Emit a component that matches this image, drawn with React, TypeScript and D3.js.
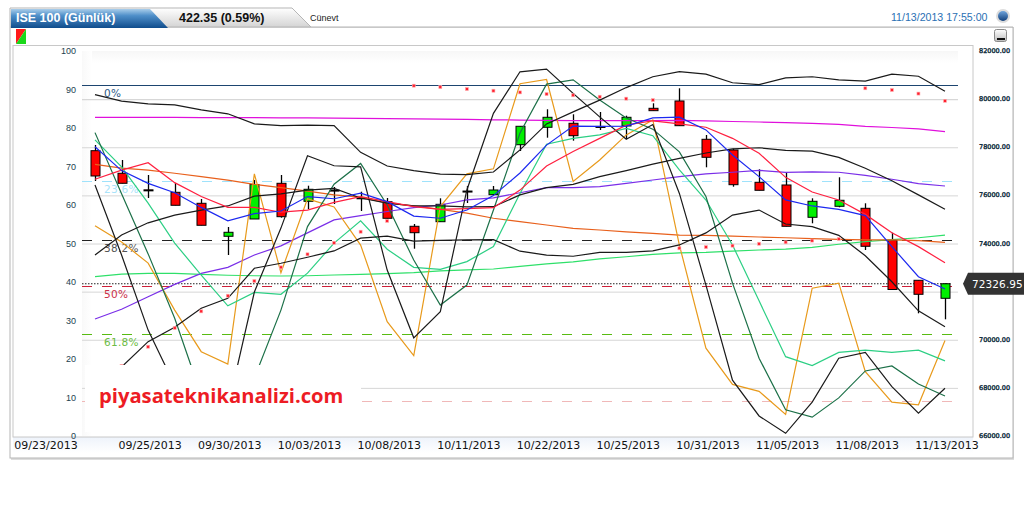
import { useEffect, useRef } from "react";
import * as d3 from "d3";

// daily candles, index price
const dates = ["09/23/2013", "09/25/2013", "09/30/2013", "10/03/2013", "10/08/2013", "10/11/2013", "10/22/2013", "10/25/2013", "10/31/2013", "11/05/2013", "11/08/2013", "11/13/2013"];
const dateIdx = [0, 2, 5, 8, 11, 14, 17, 20, 23, 26, 29, 32];

const open = [77857, 76918, 76230, 76128, 75671, 74300, 75019, 76502, 75754, 76220, 75900, 75737, 74715, 74906, 76180, 76028, 78106, 78830, 78996, 78865, 78884, 79619, 79923, 78331, 77886, 76544, 76432, 75089, 75546, 75463, 74146, 72471, 71723];
const close = [76806, 76502, 76210, 75588, 74757, 74466, 76452, 75114, 76253, 76200, 75880, 75048, 74449, 75629, 76160, 76224, 78871, 79245, 78480, 78845, 79245, 79520, 78896, 77583, 76444, 76211, 74715, 75754, 75796, 73884, 72088, 71889, 72326.95];
const high = [78094, 77471, 76847, 76515, 75850, 74686, 76639, 76847, 76402, 76348, 76153, 75891, 74811, 75879, 76390, 76390, 78871, 79578, 79370, 79465, 79312, 79827, 80450, 78510, 77940, 77084, 76943, 75879, 76752, 75671, 74449, 72471, 72346];
const low = [76598, 76502, 75891, 75588, 74757, 73522, 75019, 75073, 75434, 75642, 75351, 75048, 73784, 74906, 75683, 76028, 77845, 78397, 78273, 78717, 78343, 79520, 78896, 77167, 76361, 76211, 74715, 74840, 75505, 73730, 72088, 71099, 70850];

// overlays on the price axis
const bbUpper = [80190, 79920, 79800, 79760, 79550, 79390, 78970, 78900, 78920, 78900, 77790, 77220, 77030, 76880, 76860, 76970, 77890, 78970, 79470, 79960, 80480, 80930, 81140, 81040, 80680, 80600, 80880, 80930, 80800, 80750, 81040, 80950, 80330];
const bbMiddle = [73520, 74350, 74860, 75180, 75390, 75560, 75970, 76060, 76220, 76290, 75890, 75680, 75560, 75560, 75520, 75530, 76020, 76320, 76460, 76780, 77030, 77300, 77540, 77760, 77930, 77980, 77870, 77840, 77580, 77130, 76610, 76020, 75420];
const bbLower = [68120, 68870, 69920, 70520, 71310, 71720, 72970, 73180, 73430, 73690, 74220, 74310, 74100, 74130, 74150, 74160, 73680, 73520, 73470, 73630, 73630, 73690, 73940, 74440, 75180, 75390, 74810, 74700, 74340, 73490, 72410, 71200, 70540];
const maBlue = [78020, 77030, 76500, 76110, 75500, 74940, 75240, 75350, 75950, 75860, 76090, 75740, 75140, 75050, 75390, 75990, 76930, 78090, 78880, 78870, 78880, 79220, 79250, 78720, 77680, 76780, 75810, 75560, 75420, 75160, 73870, 72620, 72110];
const maRed = [76670, 77050, 77360, 76530, 75950, 75500, 75500, 75300, 75390, 75710, 75950, 75740, 75530, 75420, 75450, 75490, 76220, 77220, 77820, 78370, 78920, 79100, 78970, 78830, 78370, 77750, 76750, 76140, 75810, 75210, 74450, 73870, 73200];
const maOrange = [77290, 77130, 77050, 76920, 76780, 76630, 76460, 76320, 76180, 76020, 75930, 75680, 75560, 75420, 75260, 75050, 74910, 74770, 74630, 74560, 74480, 74420, 74350, 74340, 74310, 74270, 74240, 74200, 74170, 74150, 74150, 74120, 74050];
const maMagenta = [79240, 79240, 79240, 79240, 79230, 79230, 79230, 79220, 79220, 79210, 79200, 79190, 79180, 79170, 79160, 79140, 79130, 79120, 79110, 79110, 79110, 79110, 79120, 79100, 79070, 79050, 79020, 78990, 78950, 78870, 78820, 78760, 78650];
const maPurple = [70860, 71270, 71790, 72300, 72760, 73010, 73520, 73900, 74440, 74980, 75160, 75330, 75490, 75600, 75810, 75900, 76110, 76320, 76320, 76360, 76500, 76640, 76780, 76890, 76960, 77040, 76960, 76980, 76960, 76830, 76670, 76490, 76390];
const maGreen = [72620, 72730, 72760, 72760, 72720, 72680, 72660, 72650, 72660, 72690, 72720, 72750, 72790, 72860, 72900, 72940, 73050, 73150, 73240, 73360, 73450, 73550, 73610, 73630, 73680, 73730, 73770, 73840, 73970, 74080, 74160, 74240, 74350];
const sar = [null, 68910, 69710, 70490, 71180, 71830, 72440, 73010, 73550, 74030, 74490, 74940, 80560, 80500, 80420, 80350, 80280, 80210, 80160, 80100, 80020, 79960, 73800, 73850, 73910, 73990, 74050, 74120, 74190, 80450, 80380, 80230, 79930];

// oscillators on the 0-100 axis
const oscBlack = [65.2, 47.0, 27.5, 13.2, 2.9, 7.3, 37.4, 54.0, 72.8, 70.2, 69.9, 43.1, 25.5, 32.3, 63.9, 83.8, 94.6, 95.3, 89.0, 82.9, 77.1, 80.9, 63.0, 39.2, 14.5, 5.2, 0.7, 8.8, 20.2, 21.7, 12.8, 5.9, 12.4];
const oscOrange = [54.6, 50.4, 44.9, 32.7, 21.9, 18.7, 68.1, 42.4, 61.6, 59.5, 49.6, 29.7, 20.9, 59.6, 68.1, 69.4, 91.5, 92.6, 66.1, 71.7, 78.2, 82.1, 49.6, 22.8, 13.4, 11.6, 5.6, 38.4, 39.7, 16.7, 8.8, 8.1, 24.8];
const oscDarkGreen = [78.8, 62.9, 47.3, 30.6, 10.6, 8.1, 15.1, 32.7, 54.4, 65.4, 70.8, 60.0, 45.7, 34.0, 39.2, 58.7, 78.7, 91.4, 92.5, 87.3, 82.6, 79.7, 73.8, 62.2, 39.7, 20.2, 6.8, 4.9, 9.9, 16.9, 18.2, 13.5, 10.4];
const oscMint = [76.9, 69.9, 60.5, 50.1, 41.8, 33.8, 37.3, 36.8, 42.3, 50.1, 55.9, 48.5, 43.8, 43.3, 45.3, 49.2, 63.0, 75.8, 77.3, 78.2, 79.9, 78.0, 69.1, 61.3, 49.6, 35.1, 20.6, 18.3, 21.7, 22.3, 21.7, 22.3, 19.5];

const leftTicks = [0, 10, 20, 30, 40, 50, 60, 70, 80, 90, 100];
const rightTicks = [66000, 68000, 70000, 72000, 74000, 76000, 78000, 80000, 82000];

const fibLevels = [80588, 76618, 74146, 72220, 70226, 67442];
const fibLabels = ["0%", "23.6%", "38.2%", "50%", "61.8%", ""];
const fibColors = ["#1d4570", "#9fe2fb", "#222222", "#cc2038", "#58bb12", "#f0b8b8"];
const fibLabelColors = ["#2d5a85", "#a9e3fa", "#555555", "#cc3048", "#6cbc44", "#f0b8b8"];
const lastPrice = 72326.95;

const PLOT = { left: 82, right: 958, top: 51, bottom: 436 };

function App() {
  const svgRef = useRef<SVGSVGElement>(null);

  useEffect(() => {
    const svgEl = svgRef.current;
    if (!svgEl) return;
    const svg = d3.select(svgEl);
    svg.selectAll("*").remove();

    const x = d3.scaleLinear().domain([0, 32]).range([95, 945]);
    const yLeft = d3.scaleLinear().domain([0, 100]).range([PLOT.bottom, PLOT.top]);
    const yRight = d3.scaleLinear().domain([66000, 82000]).range([PLOT.bottom, PLOT.top]);

    const defs = svg.append("defs");
    const grad = (id: string, stops: [number, string][], horizontal = false) => {
      const g = defs.append("linearGradient").attr("id", id)
        .attr("x1", 0).attr("y1", 0)
        .attr("x2", horizontal ? 1 : 0).attr("y2", horizontal ? 0 : 1);
      stops.forEach(([o, c]) => g.append("stop").attr("offset", o).attr("stop-color", c));
    };
    grad("blueTab", [[0, "#a9cdea"], [0.35, "#4f8fc9"], [1, "#0f4c8c"]]);
    grad("grayTab", [[0, "#ffffff"], [1, "#d4d4d4"]]);
    grad("band", [[0, "#eef3fb"], [1, "#ffffff"]]);
    grad("plotTop", [[0, "#f7f7f7"], [1, "#ffffff"]]);
    grad("plotLeft", [[0, "#f9f9f9"], [1, "#ffffff"]], true);
    grad("knob", [[0, "#6fa4dc"], [1, "#123f7a"]]);
    grad("btn", [[0, "#ffffff"], [1, "#bdbdbd"]]);

    // Outer panel
    svg.append("rect").attr("x", 11).attr("y", 9).attr("width", 1003).attr("height", 451).attr("fill", "#dddddd");
    svg.append("rect").attr("x", 10).attr("y", 27).attr("width", 1003).attr("height", 431)
      .attr("fill", "#fff").attr("stroke", "#b5b5b5").attr("stroke-width", 1);
    svg.append("rect").attr("x", 0).attr("y", 0).attr("width", 1024).attr("height", 27).attr("fill", "#fff");

    // Tabs
    svg.append("path").attr("d", "M10,27V8H292L311,27Z").attr("fill", "url(#grayTab)").attr("stroke", "#b5b5b5");
    svg.append("path").attr("d", "M11,28V9H150L168,28Z").attr("fill", "url(#blueTab)");
    svg.append("path").attr("d", "M311,27H1013").attr("stroke", "#b5b5b5");
    svg.append("text").attr("x", 16).attr("y", 22).attr("fill", "#fff").attr("font-family", "Liberation Sans").attr("font-weight", 700).attr("font-size", 12.5).text("ISE 100 (Günlük)");
    svg.append("text").attr("x", 179).attr("y", 22).attr("fill", "#111").attr("font-family", "Liberation Sans").attr("font-weight", 700).attr("font-size", 12.5).text("422.35 (0.59%)");
    svg.append("text").attr("x", 310).attr("y", 21).attr("fill", "#222").attr("font-family", "Liberation Sans").attr("font-size", 9).text("Cünevt");
    svg.append("text").attr("x", 891).attr("y", 21).attr("fill", "#2a70b4").attr("font-family", "Liberation Sans").attr("font-size", 10.6).text("11/13/2013 17:55:00");
    svg.append("circle").attr("cx", 1003).attr("cy", 16).attr("r", 7).attr("fill", "#dcdcdc");
    svg.append("circle").attr("cx", 1003).attr("cy", 16).attr("r", 5).attr("fill", "url(#knob)");

    // Colour switch icon and minimise button
    svg.append("path").attr("d", "M16,29H26L16,44Z").attr("fill", "#ff1a1a");
    svg.append("path").attr("d", "M26,29V44H16Z").attr("fill", "#1ad81a");
    svg.append("rect").attr("x", 994.5).attr("y", 29.5).attr("width", 12).attr("height", 12).attr("rx", 2).attr("fill", "url(#btn)").attr("stroke", "#8a8a8a");
    svg.append("rect").attr("x", 997).attr("y", 38).attr("width", 8).attr("height", 2).attr("fill", "#111");

    // Inner frame and bottom band
    svg.append("rect").attr("x", 13).attr("y", 437).attr("width", 960).attr("height", 16).attr("fill", "url(#band)");
    svg.append("rect").attr("x", 13).attr("y", 45.5).attr("width", 960).attr("height", 391.5)
      .attr("fill", "#fff").attr("stroke", "#c8c8c8");
    svg.append("rect").attr("x", PLOT.left).attr("y", PLOT.top).attr("width", PLOT.right - PLOT.left).attr("height", 12).attr("fill", "url(#plotTop)");
    svg.append("rect").attr("x", PLOT.left).attr("y", PLOT.top).attr("width", 10).attr("height", PLOT.bottom - PLOT.top).attr("fill", "url(#plotLeft)");

    // Grid on the price axis
    svg.append("g").selectAll("line").data(rightTicks.slice(1, -1).concat(80000))
      .join("line")
      .attr("x1", PLOT.left).attr("x2", PLOT.right)
      .attr("y1", (d) => yRight(d) + 0.5).attr("y2", (d) => yRight(d) + 0.5)
      .attr("stroke", "#d6d6d6").attr("stroke-width", 1);

    // Fibonacci levels
    svg.append("g").selectAll("line").data(fibLevels).join("line")
      .attr("x1", PLOT.left).attr("x2", PLOT.right)
      .attr("y1", (d) => Math.round(yRight(d)) + 0.5).attr("y2", (d) => Math.round(yRight(d)) + 0.5)
      .attr("stroke", (_, i) => fibColors[i])
      .attr("stroke-width", 1)
      .attr("stroke-dasharray", (_, i) => (i === 0 ? "none" : "10,10"));
    svg.append("g").selectAll("text").data(fibLevels).join("text")
      .attr("x", 104)
      .attr("y", (d) => yRight(d) + 12)
      .attr("fill", (_, i) => fibLabelColors[i])
      .attr("font-family", "DejaVu Sans").attr("font-size", 10.5).attr("letter-spacing", 0.3)
      .text((_, i) => fibLabels[i]);

    // Last price dotted line
    svg.append("line")
      .attr("x1", PLOT.left).attr("x2", 952)
      .attr("y1", yRight(lastPrice)).attr("y2", yRight(lastPrice))
      .attr("stroke", "#222").attr("stroke-dasharray", "1.5,1.5");

    // Candles
    const candles = svg.append("g").selectAll("g").data(d3.range(open.length)).join("g");
    candles.append("line")
      .attr("x1", (i) => Math.round(x(i)) + 0.5).attr("x2", (i) => Math.round(x(i)) + 0.5)
      .attr("y1", (i) => yRight(high[i])).attr("y2", (i) => yRight(low[i]))
      .attr("stroke", "#000").attr("stroke-width", 1.3);
    candles.append("rect")
      .attr("x", (i) => Math.round(x(i)) - 4)
      .attr("width", 9)
      .attr("y", (i) => yRight(Math.max(open[i], close[i])))
      .attr("height", (i) => Math.max(1, Math.abs(yRight(open[i]) - yRight(close[i]))))
      .attr("fill", (i) => (close[i] >= open[i] ? "#00f000" : "#ff0000"))
      .attr("stroke", "#000").attr("stroke-width", 1);

    // Lines
    const lineOn = (scale: d3.ScaleLinear<number, number>) =>
      d3.line<number>().x((_, i) => x(i)).y((d) => scale(d));
    const drawLine = (values: number[], scale: d3.ScaleLinear<number, number>, color: string) =>
      svg.append("path").datum(values)
        .attr("fill", "none").attr("stroke", color).attr("stroke-width", 1.2)
        .attr("d", lineOn(scale));

    drawLine(maGreen, yRight, "#2fe06a");
    drawLine(maOrange, yRight, "#e8601c");
    drawLine(maMagenta, yRight, "#e010dc");
    drawLine(maPurple, yRight, "#7a2ee8");
    drawLine(oscOrange, yLeft, "#e89a1c");
    drawLine(oscMint, yLeft, "#2ccf84");
    drawLine(oscDarkGreen, yLeft, "#1c7048");
    drawLine(oscBlack, yLeft, "#1a1a1a");
    drawLine(bbUpper, yRight, "#1a1a1a");
    drawLine(bbMiddle, yRight, "#1a1a1a");
    drawLine(bbLower, yRight, "#1a1a1a");
    drawLine(maRed, yRight, "#ff2040");
    drawLine(maBlue, yRight, "#1c28f0");

    // Parabolic SAR dots
    svg.append("g").selectAll("rect")
      .data(sar.map((v, i) => ({ v, i })).filter((d) => d.v != null))
      .join("rect")
      .attr("x", (d) => x(d.i) - 1.5).attr("y", (d) => yRight(d.v as number) - 1.5)
      .attr("width", 3).attr("height", 3)
      .attr("fill", "#ff2030").attr("stroke", "#ffb0b0").attr("stroke-width", 0.6);

    // Watermark box
    svg.append("rect").attr("x", 85).attr("y", 365).attr("width", 276).attr("height", 67).attr("fill", "#fff");
    svg.append("text").attr("x", 99).attr("y", 403)
      .attr("fill", "#ed1c24").attr("font-family", "Open Sans").attr("font-weight", 700).attr("font-size", 20.2)
      .text("piyasateknikanalizi.com");

    // Axes
    svg.append("g").selectAll("text").data(leftTicks).join("text")
      .attr("x", 76).attr("y", (d) => yLeft(d) + 3).attr("text-anchor", "end")
      .attr("fill", "#1c3f50").attr("font-family", "Liberation Sans").attr("font-size", 9)
      .text((d) => d);
    svg.append("g").selectAll("text").data(rightTicks.filter((d) => d !== 72000)).join("text")
      .attr("x", 979).attr("y", (d) => yRight(d) + 2)
      .attr("fill", "#12303f").attr("stroke", "#12303f").attr("stroke-width", 0.4)
      .attr("font-family", "DejaVu Sans").attr("font-size", 6.5)
      .text((d) => d3.format(".2f")(d));
    svg.append("g").selectAll("text").data(dates).join("text")
      .attr("x", (_, i) => (i === 0 ? 46 : x(dateIdx[i]) + 2))
      .attr("y", 449).attr("text-anchor", "middle")
      .attr("fill", "#111").attr("font-family", "DejaVu Sans").attr("font-size", 11)
      .text((d) => d);

    // Last price callout
    const yLast = yRight(lastPrice);
    svg.append("path")
      .attr("d", `M963,${yLast}L968,${yLast - 11}H1024V${yLast + 11}H968Z`)
      .attr("fill", "#333333");
    svg.append("text").attr("x", 972).attr("y", yLast + 4)
      .attr("fill", "#fff").attr("font-family", "DejaVu Sans").attr("font-size", 10.5).attr("letter-spacing", 0.1)
      .text(d3.format(".2f")(lastPrice));
  }, []);

  return (
    <svg
      ref={svgRef}
      width={1024}
      height={507}
      style={{ position: "absolute", left: 0, top: 0, display: "block", background: "#fff" }}
    />
  );
}

export default App;
